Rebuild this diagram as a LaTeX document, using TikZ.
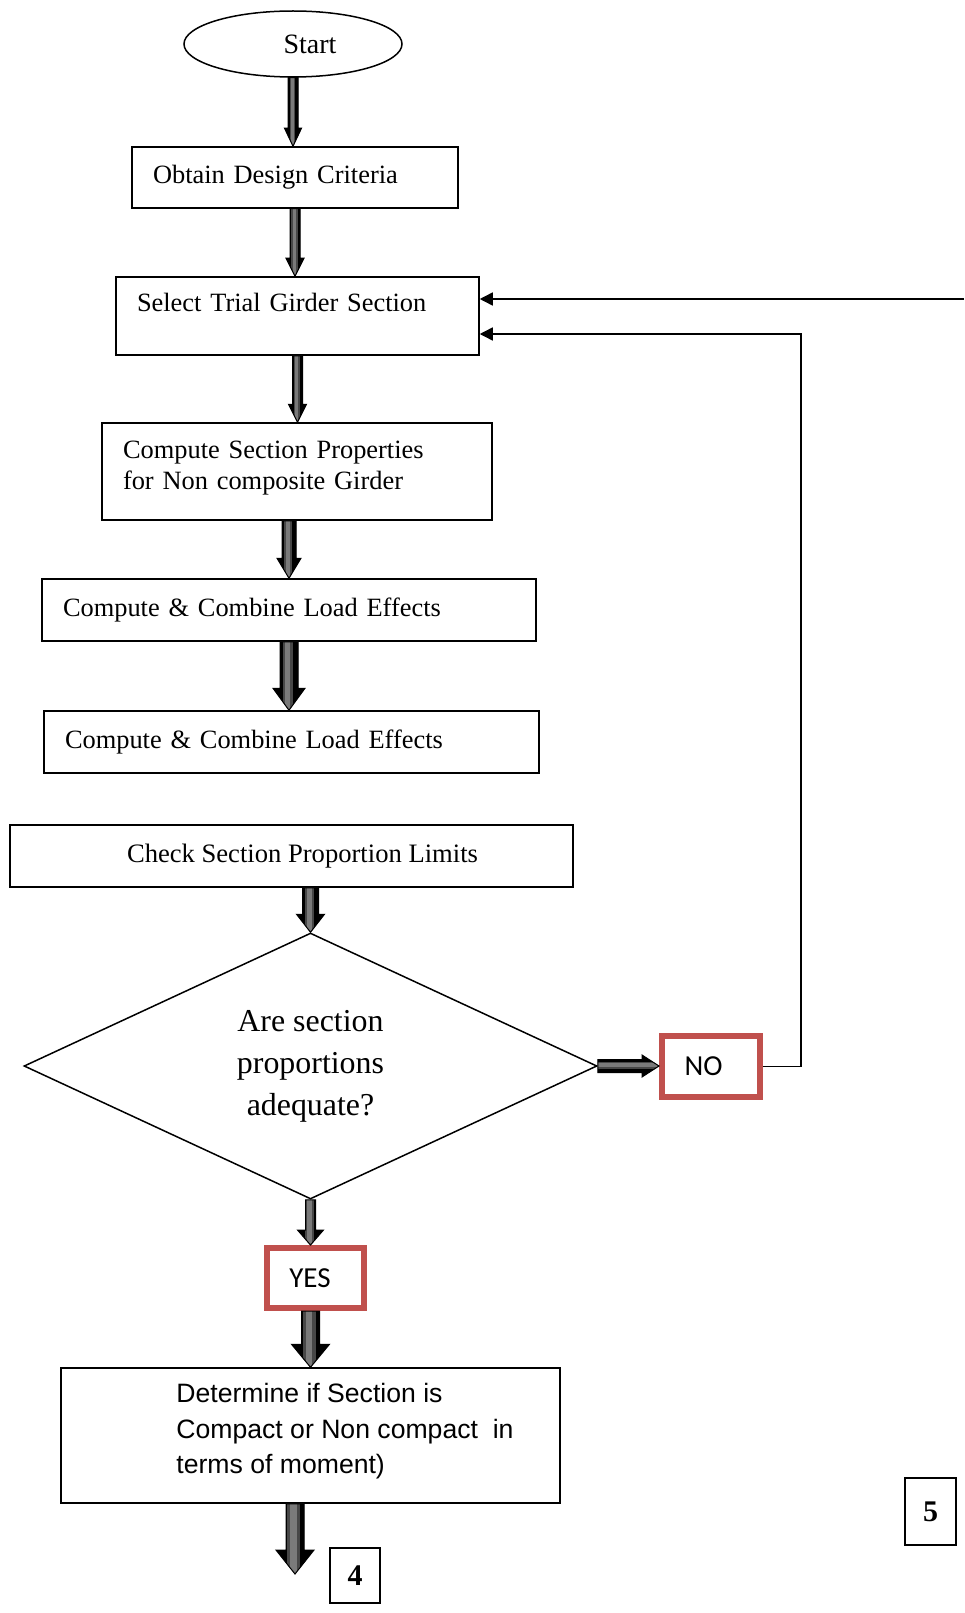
\documentclass[tikz,border=0pt]{standalone}
\usepackage{fontspec}
\setmainfont{Liberation Serif}
\newfontfamily\arialfont{Liberation Sans}
\newfontfamily\calfont{Carlito}
\usetikzlibrary{shapes.geometric,calc,arrows.meta}
\definecolor{nored}{HTML}{C0504D}

\tikzset{
  glintv/.style={path picture={
    \fill[black!72] ($(path picture bounding box.south west)!0.30!(path picture bounding box.south east)$)
      rectangle ($(path picture bounding box.north west)!0.64!(path picture bounding box.north east)$);
    \fill[black!52] ($(path picture bounding box.south west)!0.38!(path picture bounding box.south east)$)
      rectangle ($(path picture bounding box.north west)!0.54!(path picture bounding box.north east)$);
  }},
  glinth/.style={path picture={
    \fill[black!72] ($(path picture bounding box.south west)!0.36!(path picture bounding box.north west)$)
      rectangle ($(path picture bounding box.south east)!0.70!(path picture bounding box.north east)$);
    \fill[black!52] ($(path picture bounding box.south west)!0.46!(path picture bounding box.north west)$)
      rectangle ($(path picture bounding box.south east)!0.62!(path picture bounding box.north east)$);
  }}
}

% block arrows: half shaft, half head, head length, from, to
\newcommand{\blockdown}[5]{%
  \fill[gray!65, shift={(3pt,-3pt)}] let \p1=#4, \p2=#5 in
    (\x1-#1pt,\y1) -- (\x1+#1pt,\y1) -- (\x1+#1pt,\y2+#3pt) -- (\x1+#2pt,\y2+#3pt)
    -- (\x1,\y2) -- (\x1-#2pt,\y2+#3pt) -- (\x1-#1pt,\y2+#3pt) -- cycle;
  \filldraw[fill=black, line width=1pt, glintv] let \p1=#4, \p2=#5 in
    (\x1-#1pt,\y1) -- (\x1+#1pt,\y1) -- (\x1+#1pt,\y2+#3pt) -- (\x1+#2pt,\y2+#3pt)
    -- (\x1,\y2) -- (\x1-#2pt,\y2+#3pt) -- (\x1-#1pt,\y2+#3pt) -- cycle;
}
\newcommand{\blockright}[5]{%
  \fill[gray!65, shift={(3pt,-3pt)}] let \p1=#4, \p2=#5 in
    (\x1,\y1+#1pt) -- (\x2-#3pt,\y1+#1pt) -- (\x2-#3pt,\y1+#2pt) -- (\x2,\y1)
    -- (\x2-#3pt,\y1-#2pt) -- (\x2-#3pt,\y1-#1pt) -- (\x1,\y1-#1pt) -- cycle;
  \filldraw[fill=black, line width=1pt, glinth] let \p1=#4, \p2=#5 in
    (\x1,\y1+#1pt) -- (\x2-#3pt,\y1+#1pt) -- (\x2-#3pt,\y1+#2pt) -- (\x2,\y1)
    -- (\x2-#3pt,\y1-#2pt) -- (\x2-#3pt,\y1-#1pt) -- (\x1,\y1-#1pt) -- cycle;
}

\begin{document}
\begin{tikzpicture}[x=1pt,y=-1pt,
    stepbox/.style={draw, line width=1.5pt, inner xsep=21pt, align=left, font=\fontsize{26.4}{30.5}\selectfont},
    flagbox/.style={draw=nored, line width=6pt, font=\calfont\fontsize{29}{34}\selectfont},
    numbox/.style={draw, line width=1.5pt, font=\bfseries\fontsize{30}{34}\selectfont},
    link/.style={line width=1.5pt, -{Triangle[length=13pt,width=13pt]}}]
  \useasboundingbox (0,0) rectangle (964,1613);

  % flow boxes
  \node[draw, ellipse, line width=1.5pt, minimum width=218pt, minimum height=66pt, font=\fontsize{28}{32}\selectfont] (start) at (293,44) {\hspace*{34pt}Start};
  \node[stepbox, minimum width=326pt, minimum height=61pt, text width=284pt] (obtain) at (295,177.5) {Obtain Design Criteria};
  \node[stepbox, minimum width=363pt, minimum height=78pt, text width=321pt, text depth=28pt] (select) at (297.5,316) {Select Trial Girder Section};
  \node[stepbox, minimum width=390pt, minimum height=97pt, text width=348pt, text depth=42.5pt] (props) at (297,471.5) {Compute Section Properties\\for Non composite Girder};
  \node[stepbox, minimum width=494pt, minimum height=62pt, text width=452pt] (load1) at (289,610) {Compute \& Combine Load Effects};
  \node[stepbox, minimum width=495pt, minimum height=62pt, text width=453pt] (load2) at (291.5,742) {Compute \& Combine Load Effects};
  \node[draw, line width=1.5pt, minimum width=563pt, minimum height=62pt, font=\fontsize{26.6}{30.5}\selectfont] (check) at (291.5,856) {\hspace*{22pt}Check Section Proportion Limits};

  % decision
  \node[draw, diamond, line width=1.5pt, minimum width=573pt, minimum height=266pt, aspect=2.15, inner sep=0pt, align=center, font=\fontsize{31.9}{42}\selectfont] (ask) at (310.5,1066) {Are section\\proportions\\adequate?};
  \node[flagbox, minimum width=98pt, minimum height=61pt] (no) at (711,1066.5) {NO\hspace*{15pt}};
  \node[flagbox, minimum width=97pt, minimum height=60pt] (yes) at (315.5,1278) {YES\hspace*{11pt}};

  \node[draw, line width=1.5pt, minimum width=499pt, minimum height=135pt] (det) at (310.5,1435.5) {};
  \node[anchor=west, align=left, inner sep=0pt, font=\arialfont\fontsize{26.6}{35.5}\selectfont] (dettext) at ([xshift=116pt,yshift=4pt]det.west) {Determine if Section is\\Compact or Non compact\ \ in\\terms of moment)};

  % page links
  \node[numbox, minimum width=50pt, minimum height=55pt] (four) at (355,1575.5) {4};
  \node[numbox, minimum width=51pt, minimum height=67pt] (five) at (930.5,1511.5) {5};

  \coordinate (out4) at (295,1574);
  \coordinate (back1) at (964,299);
  \coordinate (back2) at (801,334);

  % block arrows
  \blockdown{5}{8.5}{18}{(start.south)}{(obtain.north)}
  \blockdown{5}{9}{18}{(obtain.south)}{(select.north)}
  \blockdown{5}{9}{18}{(select.south)}{(props.north)}
  \blockdown{7}{12}{20}{(props.south -| load1.north)}{(load1.north)}
  \blockdown{9}{16}{22}{(load1.south)}{(load2.north)}
  \blockdown{8}{14}{18}{(check.south -| ask.north)}{(ask.north)}
  \blockdown{5}{13}{15}{(ask.south)}{(yes.north)}
  \blockdown{9}{19}{23}{(yes.south -| det.north)}{(det.north)}
  \blockdown{9}{19}{24}{(det.south -| out4)}{(out4)}
  \blockright{6.5}{11}{17}{(ask.east)}{(no.west)}

  % return lines
  \draw[link] (back1) -- (back1 -| select.east);
  \draw[link] (no.east) -| (back2) -- (back2 -| select.east);
\end{tikzpicture}
\end{document}
